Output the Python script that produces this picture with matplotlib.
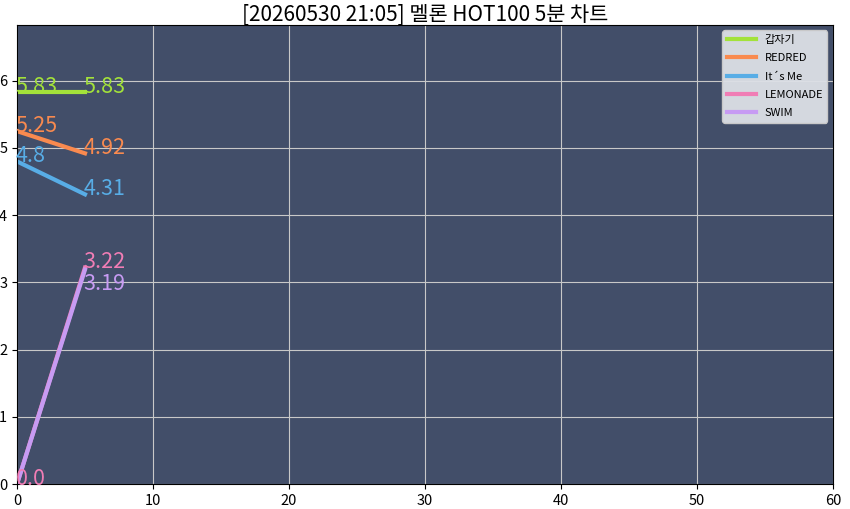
import matplotlib
matplotlib.use("Agg")
import matplotlib.pyplot as plt

plt.rcParams['font.family'] = ['Noto Sans CJK KR', 'DejaVu Sans']

title = "[20260530 21:05] 멜론 HOT100 5분 차트"
songs = ["갑자기", "REDRED", "It´s Me", "LEMONADE", "SWIM"]
minutes = [0, 5]
scores = [
    [5.83, 5.83],
    [5.25, 4.92],
    [4.8, 4.31],
    [0.0, 3.22],
    [0.0, 3.19],
]
colors = ["#a3e23a", "#f98a4f", "#58ade6", "#f07db5", "#c79bf3"]
# label offsets (points) so overlapping labels stay readable
end_offsets = [4, 4, 4, 4, -10]

fig, ax = plt.subplots(figsize=(8.5, 5.09), dpi=100)
ax.set_facecolor("#424e69")

for i in range(len(songs)):
    ax.plot(minutes, scores[i], color=colors[i], linewidth=3, label=songs[i])

for i in range(len(songs)):
    if i != 4:
        ax.annotate(str(scores[i][0]), (minutes[0], scores[i][0]), xytext=(-1, 4),
                    textcoords="offset points", color=colors[i], fontsize=15.5,
                    ha="left", va="center")
    ax.annotate(str(scores[i][1]), (minutes[1], scores[i][1]), xytext=(-1, end_offsets[i]),
                textcoords="offset points", color=colors[i], fontsize=15.5,
                ha="left", va="center")

ax.set_xlim(0, 60)
ax.set_ylim(0, 6.83)
ax.grid(True, color="#c8c8c8", linewidth=0.8)
ax.set_axisbelow(True)
ax.set_title(title, fontsize=15, pad=3)
ax.tick_params(labelsize=10.5)
ax.legend(loc="upper right", fontsize=8, facecolor="#dde0e6", framealpha=0.95,
          labelspacing=0.75, handlelength=2.6)

fig.subplots_adjust(left=0.02, right=0.98, top=0.951, bottom=0.049)
fig.savefig("out.png")
